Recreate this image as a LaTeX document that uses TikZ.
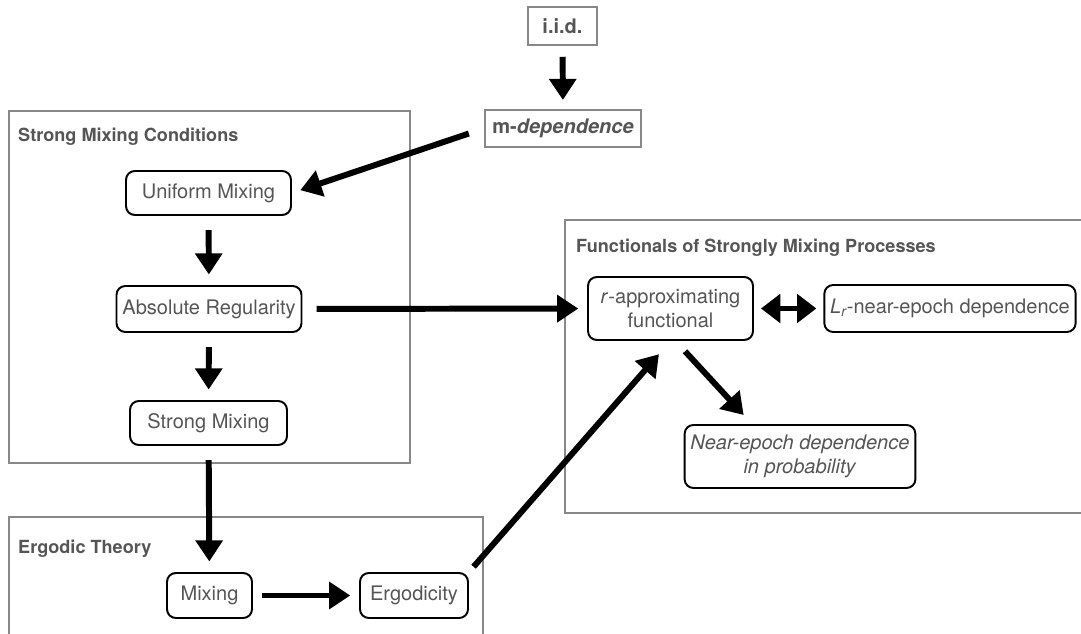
\documentclass[tikz,border=0pt]{standalone}
\usepackage{fontspec}
\setmainfont{TeX Gyre Heros}
\usetikzlibrary{arrows.meta}

\begin{document}
\begin{tikzpicture}[
    x=0.02cm, y=-0.02cm,
    cond/.style={draw=black, line width=1.1pt, rounded corners=5pt, fill=white, text=c_text, align=center, font=\fontsize{11.4}{13.5}\selectfont},
    base/.style={draw=c_frame, line width=1.4pt, text=c_text, font=\bfseries\fontsize{11.4}{13.5}\selectfont},
    frame/.style={draw=c_frame, line width=1.4pt},
    title/.style={anchor=west, text=c_text, font=\bfseries\fontsize{10.3}{12}\selectfont},
    imp/.style={line width=3.4pt, -{Triangle[length=12pt,width=15pt]}, shorten <=8pt, shorten >=6pt}
]

    % Colores
    \definecolor{c_text}{RGB}{85, 85, 85}
    \definecolor{c_frame}{RGB}{136, 136, 136}

    \useasboundingbox (0,0) rectangle (1081,634);

    % Marcos de las familias
    \draw[frame] (9,111) rectangle (410,463);
    \draw[frame] (9,517) rectangle (483,645);
    \draw[frame] (565,220) rectangle (1095,513);

    % Títulos
    \node[title] (t_smc) at (12,137) {Strong Mixing Conditions};
    \node[title] (t_erg) at (12,549) {Ergodic Theory};
    \node[title] (t_fsm) at (570,248) {Functionals of Strongly Mixing Processes};

    % Casos base
    \node[base, minimum width=1.38cm, minimum height=0.76cm] (iid) at (562.5,26) {i.i.d.};
    \node[base, minimum width=3.12cm, minimum height=0.74cm] (mdep) at (563,128.5) {m-\textit{dependence}};

    % Condiciones de mezcla fuerte
    \node[cond, minimum width=3.3cm, minimum height=0.88cm] (unif) at (208.5,193) {Uniform Mixing};
    \node[cond, minimum width=3.64cm, minimum height=0.92cm] (absreg) at (209,309) {Absolute Regularity};
    \node[cond, minimum width=3.14cm, minimum height=0.88cm] (strong) at (208.5,423) {Strong Mixing};

    % Teoría ergódica
    \node[cond, minimum width=1.7cm, minimum height=0.9cm] (mix) at (209.5,595.5) {Mixing};
    \node[cond, minimum width=2.16cm, minimum height=0.9cm] (ergo) at (414,595.5) {Ergodicity};

    % Funcionales
    \node[cond, minimum width=3.3cm, minimum height=1.26cm] (rapprox) at (670.5,308.5) {\textit{r}-approximating\\functional};
    \node[cond, minimum width=5.0cm, minimum height=0.94cm] (lrned) at (950,308.5) {\textit{L\textsubscript{r}}-near-epoch dependence};
    \node[cond, minimum width=4.52cm, minimum height=1.26cm] (nedp) at (800,456.5) {\textit{Near-epoch dependence}\\\textit{in probability}};

    % --- IMPLICACIONES ---
    \draw[imp, shorten <=6pt, shorten >=5pt] (iid) -- (mdep);
    \draw[imp, shorten <=9pt, shorten >=5pt] (mdep.west) -- (unif.east);
    \draw[imp] (unif) -- (absreg);
    \draw[imp] (absreg) -- (strong);
    \draw[imp, shorten <=8pt, shorten >=5pt] (absreg) -- (rapprox);
    \draw[imp] (strong) -- (mix);
    \draw[imp, shorten <=5pt, shorten >=5pt] (mix) -- (ergo);
    \draw[imp, shorten <=4pt, shorten >=10pt] (ergo.north east) -- (rapprox.south);
    \draw[imp, shorten <=8pt, shorten >=7pt] ([xshift=0.1cm]rapprox.south) -- ([xshift=-0.96cm]nedp.north);

    % Equivalencia
    \draw[imp, {Triangle[length=11pt,width=16pt]}-{Triangle[length=11pt,width=16pt]}, shorten <=4pt, shorten >=4pt] (rapprox) -- (lrned);

\end{tikzpicture}
\end{document}
